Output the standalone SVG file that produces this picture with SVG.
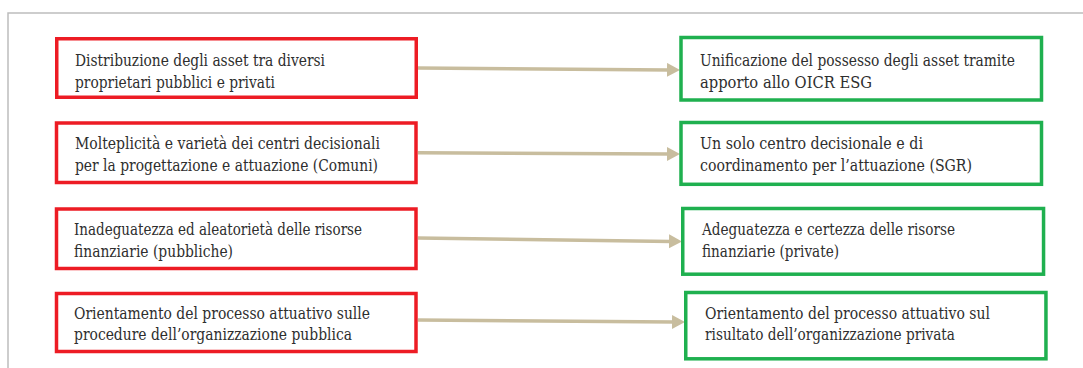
<svg xmlns="http://www.w3.org/2000/svg" width="1083" height="368" viewBox="0 0 1083 368">
<style>
.red{fill:#ffffff;stroke:#ED1C24;stroke-width:3.5}
.green{fill:#ffffff;stroke:#1FB04F;stroke-width:3.5}
.t{font-family:'DejaVu Serif','Liberation Serif',serif;font-size:17px;fill:#2e2e2e}
.conn{stroke:#C8BD9E;stroke-width:3.5;fill:none;marker-end:url(#ah)}
.frame{stroke:#BDBDBD;stroke-width:1.5;fill:none}
</style>
<defs>
<marker id="ah" markerUnits="userSpaceOnUse" markerWidth="15" markerHeight="15" refX="2" refY="7" orient="auto" viewBox="0 0 15 15">
<path d="M0,0 L13,7 L0,14 Z" fill="#C8BD9E"/>
</marker>
</defs>
<rect width="1083" height="368" fill="#ffffff"/>
<path class="frame" d="M8,368 L8,13 L1083,13"/>
<g id="connectors">
<line class="conn" x1="418" y1="68" x2="669" y2="69.9"/>
<line class="conn" x1="418" y1="152.7" x2="669" y2="154"/>
<line class="conn" x1="418" y1="238" x2="671" y2="241.4"/>
<line class="conn" x1="418" y1="320" x2="674" y2="322"/>
</g>
<g id="left1">
<rect class="red" x="56.75" y="38.75" width="359.5" height="58.5"/>
<text class="t" x="75" y="65.5" textLength="250" lengthAdjust="spacingAndGlyphs">Distribuzione degli asset tra diversi</text>
<text class="t" x="75" y="87.5" textLength="200" lengthAdjust="spacingAndGlyphs">proprietari pubblici e privati</text>
</g>
<g id="left2">
<rect class="red" x="56.5" y="123" width="359.5" height="59.5"/>
<text class="t" x="75" y="148.5" textLength="305" lengthAdjust="spacingAndGlyphs">Molteplicità e varietà dei centri decisionali</text>
<text class="t" x="75" y="171" textLength="303" lengthAdjust="spacingAndGlyphs">per la progettazione e attuazione (Comuni)</text>
</g>
<g id="left3">
<rect class="red" x="56.5" y="209" width="359.5" height="59.5"/>
<text class="t" x="74" y="235" textLength="288" lengthAdjust="spacingAndGlyphs">Inadeguatezza ed aleatorietà delle risorse</text>
<text class="t" x="74" y="257" textLength="159" lengthAdjust="spacingAndGlyphs">finanziarie (pubbliche)</text>
</g>
<g id="left4">
<rect class="red" x="56.5" y="293.5" width="359.5" height="58"/>
<text class="t" x="74" y="318.5" textLength="296" lengthAdjust="spacingAndGlyphs">Orientamento del processo attuativo sulle</text>
<text class="t" x="74" y="340" textLength="278" lengthAdjust="spacingAndGlyphs">procedure dell’organizzazione pubblica</text>
</g>
<g id="right1">
<rect class="green" x="681" y="37.5" width="360.5" height="62.5"/>
<text class="t" x="700" y="65.5" textLength="315" lengthAdjust="spacingAndGlyphs">Unificazione del possesso degli asset tramite</text>
<text class="t" x="700" y="87.5" textLength="172" lengthAdjust="spacingAndGlyphs">apporto allo OICR ESG</text>
</g>
<g id="right2">
<rect class="green" x="681" y="122.5" width="360.5" height="61.8"/>
<text class="t" x="700" y="148.5" textLength="223" lengthAdjust="spacingAndGlyphs">Un solo centro decisionale e di</text>
<text class="t" x="700" y="171" textLength="272" lengthAdjust="spacingAndGlyphs">coordinamento per l’attuazione (SGR)</text>
</g>
<g id="right3">
<rect class="green" x="682.75" y="208.5" width="360.8" height="65.7"/>
<text class="t" x="702" y="235" textLength="253" lengthAdjust="spacingAndGlyphs">Adeguatezza e certezza delle risorse</text>
<text class="t" x="702" y="257" textLength="137" lengthAdjust="spacingAndGlyphs">finanziarie (private)</text>
</g>
<g id="right4">
<rect class="green" x="685.75" y="292.5" width="360.2" height="66.3"/>
<text class="t" x="705" y="318.5" textLength="285" lengthAdjust="spacingAndGlyphs">Orientamento del processo attuativo sul</text>
<text class="t" x="705" y="340" textLength="250" lengthAdjust="spacingAndGlyphs">risultato dell’organizzazione privata</text>
</g>
</svg>
